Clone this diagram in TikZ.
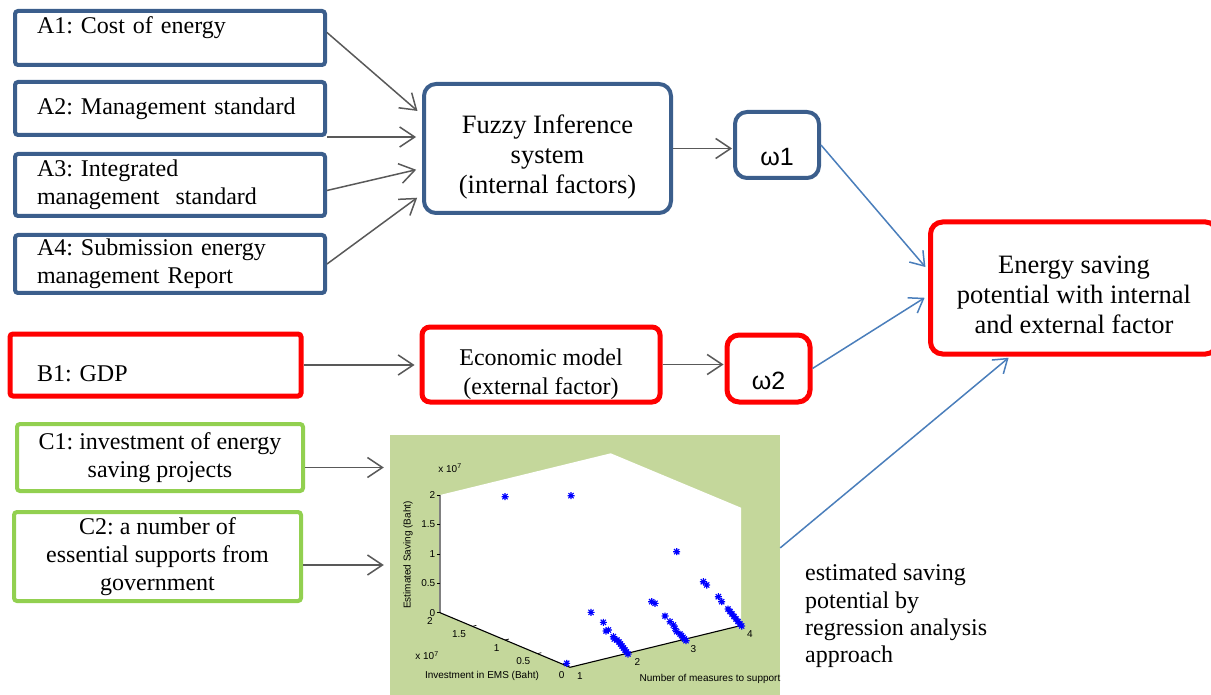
\documentclass[tikz,border=0pt]{standalone}
\usepackage{fontspec}
\setmainfont{Liberation Serif}
\setsansfont{Liberation Sans}
\usetikzlibrary{arrows.meta}
\definecolor{boxblue}{HTML}{3B5E8C}
\definecolor{boxred}{HTML}{FF0000}
\definecolor{boxgreen}{HTML}{92D050}
\definecolor{flowgray}{HTML}{595959}
\definecolor{linkblue}{HTML}{4A7EBB}
\definecolor{plotbg}{HTML}{C4D79B}
\definecolor{axisgray}{HTML}{808080}
\definecolor{markblue}{HTML}{0000FF}
\newcommand\lowtext[1]{\rule{0pt}{#1}}
\frenchspacing

\tikzset{
  abox/.style={draw=boxblue, line width=4pt, rounded corners=3pt, fill=white,
    text width=266pt, align=left, inner xsep=22pt, inner ysep=0pt,
    font=\fontsize{24}{27.5}\selectfont},
  cbox/.style={draw=boxgreen, line width=4pt, rounded corners=3pt, fill=white,
    align=center, inner sep=0pt, font=\fontsize{24}{28}\selectfont},
  bigbox/.style={line width=4pt, rounded corners=12pt, fill=white,
    align=center, inner sep=1pt, font=\fontsize{26.5}{30}\selectfont},
  wbox/.style={line width=4pt, rounded corners=12pt, fill=white,
    inner sep=1pt, font=\sffamily\fontsize{25}{30}\selectfont},
  flow/.style={draw=flowgray, line width=1.5pt,
    -{Straight Barb[length=15pt,width=20pt]}, shorten >=6pt},
  link/.style={draw=linkblue, line width=1.5pt,
    -{Straight Barb[length=13pt,width=18pt]}, shorten >=4pt},
  plotlbl/.style={inner sep=0pt, font=\sffamily\fontsize{10}{12}\selectfont},
  smark/.pic={\draw[markblue, line width=1.1pt] (-3.5,0) -- (3.5,0) (0,-3.5) -- (0,3.5)
    (-2.6,-2.6) -- (2.6,2.6) (-2.6,2.6) -- (2.6,-2.6);}
}

\begin{document}
\begin{tikzpicture}[x=1pt,y=-1pt]
\useasboundingbox (0,0) rectangle (1211,695);

% internal factors
\node[abox, minimum height=54pt] (a1) at (170,38) {A1: Cost of energy\rule[-25pt]{0pt}{1pt}};
\node[abox, minimum height=53pt] (a2) at (170,108.5) {A2: Management standard};
\node[abox, minimum height=62pt] (a3) at (170,185) {A3: Integrated\\management~ standard};
\node[abox, minimum height=58pt] (a4) at (170,264) {A4: Submission energy\\management Report};

\node[bigbox, draw=boxblue, minimum width=247pt, minimum height=129pt] (fuzzy) at (547.5,148.5)
  {\lowtext{35pt}Fuzzy Inference\\system\\(internal factors)};
\node[wbox, draw=boxblue, minimum width=84pt, minimum height=66pt] (w1) at (777,145) {\lowtext{42pt}ω1};

% external factor
\node[abox, draw=boxred, line width=5pt, text width=237pt, inner xsep=27pt, minimum height=62pt] (b1) at (155.5,365)
  {\lowtext{33.4pt}B1: GDP};
\node[bigbox, draw=boxred, line width=5pt, rounded corners=8pt, minimum width=238pt, minimum height=75pt,
  font=\fontsize{24}{29}\selectfont] (econ) at (541,364.5)
  {\lowtext{36.4pt}Economic model\\(external factor)};
\node[wbox, draw=boxred, line width=5pt, minimum width=83pt, minimum height=67pt] (w2) at (768.5,368.5) {\lowtext{42pt}ω2};

% result
\node[bigbox, draw=boxred, line width=5pt, minimum width=287pt, minimum height=132pt, anchor=west] (energy) at (928,288)
  {\lowtext{32pt}Energy saving\\potential with internal\\and external factor};

% regression inputs
\node[cbox, minimum width=286pt, minimum height=67pt] (c1) at (160,457.5) {C1: investment of energy\\saving projects};
\node[cbox, minimum width=287pt, minimum height=89pt] (c2) at (157.5,556.5) {C2: a number of\\essential supports from\\government};

% regression plot
\node[fill=plotbg, minimum width=390pt, minimum height=260pt, inner sep=0pt] (plot) at (585,565) {};
\fill[white] (440,495) -- (610.7,453.3) -- (741,507.7) -- (741,625.5) -- (570,667.3) -- (440,612.7) -- cycle;
\draw[axisgray, line width=2pt] (440,495) -- (440,612.7);
\draw[black, line width=1.1pt] (440,612.7) -- (570,667.3) -- (741,625.5);
\foreach \v/\y/\n in {0/612.7/0, 0.5/583.3/1, 1/553.9/2, 1.5/524.5/3, 2/495/4} {
  \draw[black, line width=0.7pt] (440,\y) -- (437,\y);
  \node[plotlbl, anchor=east] (ztick\n) at (435.5,\y) {\v};
}
\foreach \x/\y in {472.5/626.3, 505/640, 537.5/653.6}
  \draw[black, line width=0.7pt] (\x,\y) -- ++(3.9,-0.95);
\foreach \x/\y in {626.8/653.4, 683.6/639.4}
  \draw[black, line width=0.7pt] (\x,\y) -- ++(-3.7,-1.5);
\foreach \v/\x/\y/\n in {2/430/620.7/0, 1.5/459/634/1, 1/496.7/647.7/2, 0.5/523.3/660.7/3, 0/561.7/675/4}
  \node[plotlbl] (xtick\n) at (\x,\y) {\v};
\foreach \v/\x/\y in {1/580/675.7, 2/637.3/661.7, 3/693.3/649, 4/750/634.3}
  \node[plotlbl] (ytick\v) at (\x,\y) {\v};
\node[plotlbl] (zexp) at (450,468) {x 10\textsuperscript{7}};
\node[plotlbl] (xexp) at (427,655.7) {x 10\textsuperscript{7}};
\node[plotlbl, rotate=90] (zname) at (408,555) {Estimated Saving (Baht)};
\node[plotlbl] (xname) at (482,676) {Investment in EMS (Baht)};
\node[plotlbl] (yname) at (710,679) {Number of measures to support};
\foreach \p in {(505,496.7), (571,495.7), (676.7,551.7), (566.7,663.3),
  (591,612.3), (603.3,622.3), (606,631), (608.3,630), (613.3,636.7), (614.3,639),
  (617,640), (619,642), (620.5,644), (622,646), (623.5,648), (625,650), (626.5,652), (628,654),
  (651.7,601.7), (655,603.3), (665,616), (670,621.7), (673.3,625), (675,628.3), (676.7,631.7),
  (680,634), (681.5,635.7), (683,637.4), (684.5,639), (686,640.7),
  (703.3,581.7), (706.7,585), (718.3,596.7), (721.7,601.7),
  (728,609), (730,611.5), (732,614), (734,616.5), (736,619), (738,621.5), (740,624), (741.7,626)}
  \pic at \p {smark};

\node[anchor=west, inner sep=0pt, align=left, font=\fontsize{24}{27.4}\selectfont] (note) at (805,616)
  {estimated saving\\potential by\\regression analysis\\approach};

% connectors
\draw[flow] (a1.2) -- (fuzzy.165);
\draw[flow] (a2.south east) -- (a2.south east -| fuzzy.west);
\draw[flow] (a3.358) -- (fuzzy.189);
\draw[flow] (a4.east) -- (fuzzy.200);
\draw[flow, shorten >=1pt] (fuzzy.east) -- (fuzzy.east -| w1.west);
\draw[flow, shorten >=5pt] (b1.east) -- (b1.east -| econ.west);
\draw[flow, shorten >=1pt] (econ.east) -- (econ.east -| w2.west);
\coordinate (c1out) at ([yshift=-10pt]c1.east);
\coordinate (c2out) at ([yshift=-8.5pt]c2.east);
\draw[flow] (c1out) -- (c1out -| plot.west);
\draw[flow] (c2out) -- (c2out -| plot.west);
\draw[link] (w1.east) -- (energy.173);
\draw[link] (w2.east) -- (energy.183);
\draw[link, shorten >=2pt] (plot.5) -- (energy.227);
\end{tikzpicture}
\end{document}
